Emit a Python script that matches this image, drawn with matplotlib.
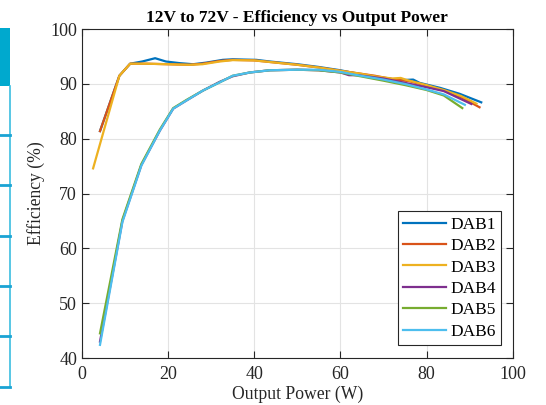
import matplotlib
matplotlib.use("Agg")
import matplotlib.pyplot as plt
from matplotlib.patches import Rectangle
from matplotlib.lines import Line2D

# measured efficiency curves (Output Power W, Efficiency %)
dab1_p = [4.2, 8.7, 11.2, 14, 17, 19.5, 22.7, 25.8, 28.9, 32.7, 35, 40.5, 43.6, 50, 55, 60, 64.5, 70, 74, 76.9, 78.4, 83.1, 87.7, 92.7]
dab1_e = [81.4, 91.5, 93.7, 94.1, 94.7, 94.1, 93.8, 93.6, 93.9, 94.4, 94.5, 94.4, 94.1, 93.6, 93.1, 92.5, 91.8, 91.1, 90.7, 90.8, 90.2, 89.3, 88.2, 86.65]

dab2_p = [4.2, 8.7, 11.2, 15, 20, 25, 28, 32, 35, 40, 45, 50, 55, 60, 64.5, 68, 72, 76, 80, 84, 88, 92.3]
dab2_e = [81.4, 91.5, 93.7, 93.7, 93.6, 93.5, 93.7, 94.2, 94.4, 94.3, 93.9, 93.5, 93.0, 92.4, 91.9, 91.5, 90.9, 90.5, 89.7, 88.8, 87.6, 85.75]

dab3_p = [2.6, 8.7, 11.2, 15, 20, 25, 28, 32, 35, 40, 45, 50, 55, 60, 64.5, 68, 72, 74, 75.5, 80, 84, 88, 91.6]
dab3_e = [74.6, 91.5, 93.7, 93.7, 93.6, 93.5, 93.6, 94.1, 94.35, 94.3, 93.9, 93.5, 93.0, 92.4, 91.9, 91.4, 91.0, 91.1, 90.7, 89.8, 88.9, 87.8, 86.4]

dab4_p = [4.2, 9.4, 13.8, 18.1, 21.2, 24.3, 28.1, 32, 35, 39, 43.6, 50, 55, 60, 62, 64, 70, 75, 80, 84, 90.4]
dab4_e = [43.0, 65.0, 75.2, 81.5, 85.5, 87.0, 88.8, 90.4, 91.4, 92.1, 92.5, 92.6, 92.5, 92.1, 91.6, 91.6, 91.0, 90.2, 89.4, 88.7, 86.35]

dab5_p = [4.2, 9.4, 13.8, 18.1, 21.2, 24.3, 28.1, 32, 35, 39, 43.6, 50, 55, 60, 64, 70, 75, 80, 84, 88.3]
dab5_e = [44.5, 65.3, 75.4, 81.7, 85.6, 87.1, 88.8, 90.3, 91.5, 92.1, 92.5, 92.6, 92.5, 92.1, 91.5, 90.6, 89.8, 88.9, 87.9, 85.6]

dab6_p = [4.2, 9.4, 13.8, 18.1, 21.2, 24.3, 28.1, 32, 35, 39, 43.6, 50, 55, 60, 64, 70, 75, 80, 84, 88.9]
dab6_e = [42.4, 64.8, 75.1, 81.5, 85.5, 87.0, 88.8, 90.3, 91.5, 92.1, 92.5, 92.6, 92.6, 92.2, 91.6, 90.8, 90.0, 89.0, 88.1, 86.2]

names = ["DAB1", "DAB2", "DAB3", "DAB4", "DAB5", "DAB6"]
colors = ["#0072BD", "#D95319", "#EDB120", "#7E2F8E", "#77AC30", "#4DBEEE"]

plt.rcParams["font.family"] = ["Liberation Serif", "DejaVu Serif"]

fig = plt.figure(figsize=(5.46, 4.05), dpi=100)
ax = fig.add_axes([0.150, 0.116, 0.789, 0.812])

series = [(dab1_p, dab1_e), (dab2_p, dab2_e), (dab3_p, dab3_e),
          (dab4_p, dab4_e), (dab5_p, dab5_e), (dab6_p, dab6_e)]
for (p, e), name, c in zip(series, names, colors):
    ax.plot(p, e, color=c, lw=1.6, label=name)

ax.set_xlim(0, 100)
ax.set_ylim(40, 100)
ax.set_xticks([0, 20, 40, 60, 80, 100])
ax.set_yticks([40, 50, 60, 70, 80, 90, 100])
ax.grid(True, color="#e3e3e3", lw=0.8)
ax.set_axisbelow(True)
for s in ax.spines.values():
    s.set_color("#262626")
    s.set_linewidth(0.8)
ax.tick_params(direction="in", length=5, width=0.8, color="#262626",
               labelsize=13, labelcolor="#262626", top=True, right=True)
ax.tick_params(axis="x", pad=6)

ax.set_title("12V to 72V - Efficiency vs Output Power", fontsize=12.5,
             fontweight="bold", pad=5)
ax.set_xlabel("Output Power (W)", fontsize=12.7, color="#262626", labelpad=2)
ax.set_ylabel("Efficiency (%)", fontsize=12.7, color="#262626", labelpad=4)

leg = ax.legend(loc="lower right", bbox_to_anchor=(0.974, 0.04), fontsize=12.5,
                handlelength=2.45, handletextpad=0.3, labelspacing=0.3,
                borderpad=0.3, borderaxespad=0, fancybox=False, framealpha=1)
leg.get_frame().set_edgecolor("#262626")
leg.get_frame().set_linewidth(0.8)

# cropped neighbour panel on the left edge
W, H = 546.0, 405.0
fig.add_artist(Rectangle((0, 1 - 86 / H), 10 / W, 58 / H, transform=fig.transFigure,
                         facecolor="#00A9CE", edgecolor="none"))
fig.add_artist(Line2D([9.5 / W, 9.5 / W], [1 - 86 / H, 1 - 387 / H],
                      transform=fig.transFigure, color="#3BBDE0", lw=1.2))
for yy in [135, 185, 235.5, 285.5, 336, 386.5]:
    fig.add_artist(Line2D([0, 10 / W], [1 - yy / H, 1 - yy / H],
                          transform=fig.transFigure, color="#1AA3D4", lw=2))

fig.savefig("out.png", dpi=100)
